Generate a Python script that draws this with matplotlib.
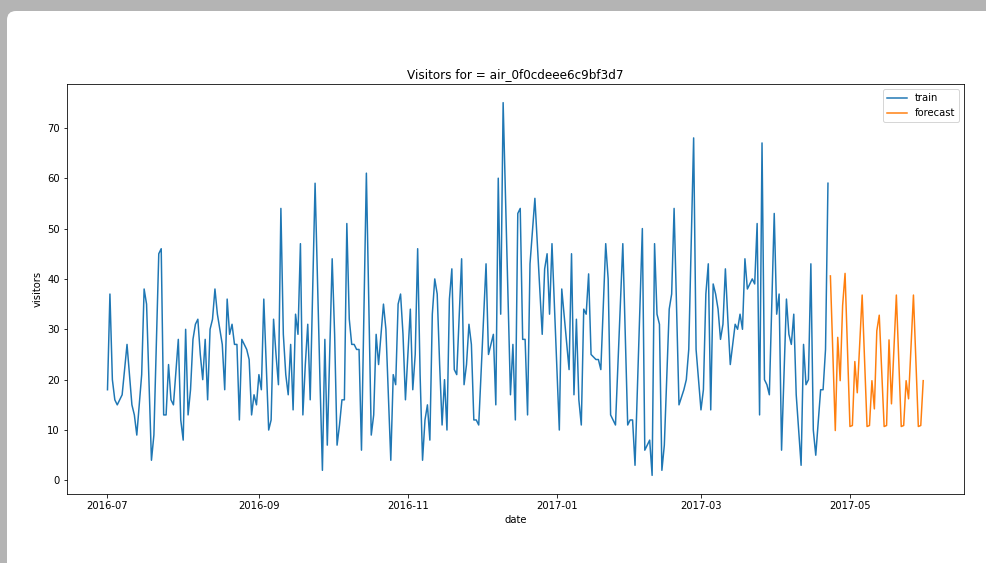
import pandas as pd
import matplotlib
matplotlib.use('Agg')
import matplotlib.pyplot as plt
import matplotlib.dates as mdates
from matplotlib.patches import FancyBboxPatch
from matplotlib.transforms import IdentityTransform

STORE_ID = 'air_0f0cdeee6c9bf3d7'
START = '2016-07-01'

# days since START and visitors on those days
train_days = [
    0, 1, 2, 3, 4, 6, 8, 10, 11, 12, 14, 15, 16, 18, 19, 21, 22, 23, 24, 25,
    26, 27, 29, 30, 31, 32, 33, 34, 35, 36, 37, 38, 39, 40, 41, 42, 43, 44, 45, 47,
    48, 49, 50, 51, 52, 53, 54, 55, 56, 57, 58, 59, 60, 61, 62, 63, 64, 65, 66, 67,
    68, 69, 70, 71, 72, 73, 74, 75, 76, 77, 78, 79, 80, 81, 82, 83, 85, 87, 88, 89,
    90, 92, 93, 94, 95, 96, 97, 98, 99, 100, 101, 102, 103, 104, 106, 108, 109, 110, 111, 112,
    113, 114, 116, 117, 118, 119, 120, 121, 122, 123, 124, 125, 126, 127, 128, 129, 130, 131, 132, 133,
    134, 135, 136, 137, 138, 139, 140, 141, 142, 143, 145, 146, 147, 148, 149, 150, 151, 152, 155, 156,
    157, 158, 159, 160, 161, 162, 165, 166, 167, 168, 169, 170, 171, 172, 173, 175, 178, 179, 180, 181,
    182, 185, 186, 189, 190, 191, 192, 193, 194, 195, 196, 197, 198, 200, 201, 202, 204, 205, 206, 208,
    211, 213, 214, 215, 216, 219, 220, 221, 222, 223, 224, 225, 226, 227, 228, 230, 231, 232, 234, 236,
    237, 238, 240, 241, 242, 243, 244, 245, 246, 247, 248, 249, 250, 251, 252, 253, 254, 255, 256, 257,
    258, 259, 260, 261, 262, 263, 264, 265, 266, 267, 268, 269, 270, 271, 273, 274, 275, 276, 278, 279,
    280, 281, 282, 284, 285, 286, 287, 288, 289, 290, 292, 293, 294, 295,
]
train_visitors = [
    18, 37, 20, 16, 15, 17, 27, 15, 13, 9, 21, 38, 35, 4, 9, 45, 46, 13, 13, 23,
    16, 15, 28, 12, 8, 30, 13, 18, 28, 31, 32, 25, 20, 28, 16, 30, 32, 38, 33, 27,
    18, 36, 29, 31, 27, 27, 12, 28, 27, 26, 24, 13, 17, 15, 21, 18, 36, 23, 10, 12,
    32, 25, 19, 54, 29, 21, 17, 27, 14, 33, 29, 47, 13, 23, 31, 16, 59, 20, 2, 28,
    7, 44, 29, 7, 11, 16, 16, 51, 32, 27, 27, 26, 26, 6, 61, 9, 13, 29, 23, 29,
    35, 30, 4, 21, 19, 35, 37, 29, 16, 25, 34, 18, 25, 46, 21, 4, 12, 15, 8, 33,
    40, 37, 23, 11, 20, 10, 36, 42, 22, 21, 44, 19, 23, 31, 27, 12, 12, 11, 43, 25,
    27, 29, 15, 60, 33, 75, 17, 27, 12, 53, 54, 28, 28, 13, 43, 56, 29, 42, 45, 33,
    47, 10, 38, 22, 45, 17, 32, 16, 11, 34, 33, 41, 25, 24, 24, 22, 47, 40, 13, 11,
    47, 11, 12, 12, 3, 50, 6, 7, 8, 1, 47, 33, 31, 2, 7, 34, 37, 54, 15, 18,
    20, 26, 68, 26, 20, 14, 18, 37, 43, 14, 39, 37, 34, 28, 31, 42, 32, 23, 27, 31,
    30, 33, 30, 44, 38, 39, 40, 39, 51, 13, 67, 20, 19, 17, 53, 33, 37, 6, 36, 29,
    27, 33, 17, 3, 27, 19, 20, 43, 10, 5, 18, 18, 26, 59,
]

forecast_days = [
    296, 298, 299, 300, 301, 302, 304, 305, 306, 307, 309, 311, 312, 313, 314,
    315, 316, 318, 319, 320, 321, 323, 325, 326, 327, 328, 330, 332, 333, 334,
]
forecast_visitors = [
    40.6, 9.9, 28.4, 19.8, 34.7, 41.1, 10.7, 10.9, 23.6, 17.4, 36.8, 10.7, 10.9, 19.8, 14.2,
    29.7, 32.8, 10.7, 10.9, 27.9, 15.2, 36.8, 10.7, 10.9, 19.8, 16.2, 36.8, 10.7, 10.9, 19.8,
]


def to_dates(days):
    return pd.Timestamp(START) + pd.to_timedelta(days, unit='D')


W, H = 986, 563
fig = plt.figure(figsize=(W / 72, H / 72), dpi=72, facecolor='#b4b4b4')

# white notebook output panel on the grey page, kept behind the axes
panel = FancyBboxPatch((7, -20), W + 20, H - 11 + 20,
                       boxstyle='round,pad=0,rounding_size=9',
                       transform=IdentityTransform(),
                       facecolor='white', edgecolor='none', zorder=-1)
fig.patches.append(panel)

ax = fig.add_axes([66.7 / W, 69 / H, 897.3 / W, 410 / H])
ax.plot(to_dates(train_days), train_visitors, label='train')
ax.plot(to_dates(forecast_days), forecast_visitors, label='forecast')

ax.xaxis.set_major_locator(mdates.MonthLocator(bymonth=[1, 3, 5, 7, 9, 11]))
ax.xaxis.set_major_formatter(mdates.DateFormatter('%Y-%m'))
ax.set_title('Visitors for = ' + STORE_ID)
ax.set_xlabel('date')
ax.set_ylabel('visitors')
ax.legend(loc='upper right')

fig.savefig('out.png', dpi=72, facecolor=fig.get_facecolor())
